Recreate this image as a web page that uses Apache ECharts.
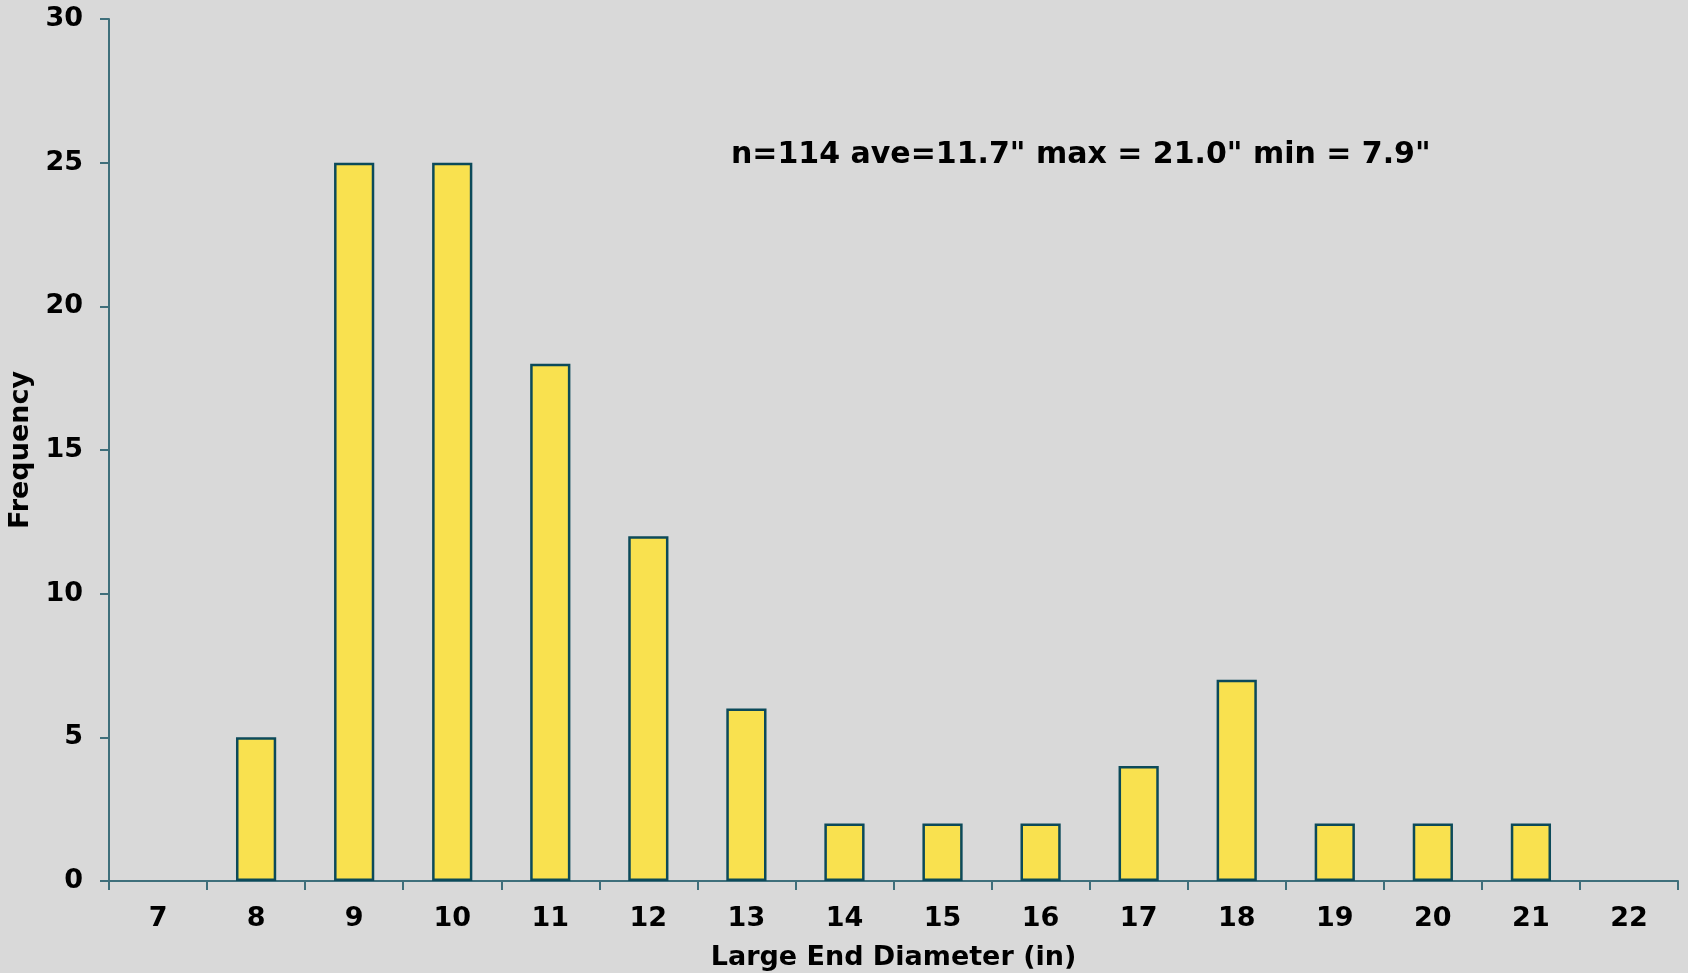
<!DOCTYPE html>
<html><head><meta charset="utf-8">
<script src="https://cdn.jsdelivr.net/npm/echarts@6/dist/echarts.min.js"></script>
<style>html,body{margin:0;padding:0;background:#d9d9d9;}#c{width:1688px;height:973px;}</style>
</head><body><div id="c"></div>
<script>
const categories = ['7','8','9','10','11','12','13','14','15','16','17','18','19','20','21','22'];
const frequency = [0,5,25,25,18,12,6,2,2,2,4,7,2,2,2,0];
const yTicks = {min:0, max:30, interval:5};
const annotation = 'n=114 ave=11.7" max = 21.0" min = 7.9"';
const xTitle = 'Large End Diameter (in)';
const yTitle = 'Frequency';

const FONT = '"DejaVu Sans", Verdana, sans-serif';
const axisColor = '#3f6f7b';
const chart = echarts.init(document.getElementById('c'));
chart.setOption({
  backgroundColor: '#d9d9d9',
  animation: false,
  grid: {left: 109, top: 19, right: 10, bottom: 92, containLabel: false, outerBoundsMode: 'none'},
  xAxis: {
    type: 'category', data: categories,
    name: xTitle, nameLocation: 'middle', nameGap: 63,
    nameTextStyle: {fontFamily: FONT, fontWeight: 'bold', fontSize: 27, color: '#000'},
    axisLine: {lineStyle: {color: axisColor, width: 2}},
    axisTick: {show: true, length: 9, lineStyle: {color: axisColor, width: 2}},
    axisLabel: {margin: 24, fontFamily: FONT, fontWeight: 'bold', fontSize: 27, color: '#000'},
    splitLine: {show: false}
  },
  yAxis: {
    type: 'value', min: yTicks.min, max: yTicks.max, interval: yTicks.interval,
    name: yTitle, nameLocation: 'middle', nameGap: 73, nameRotate: 90,
    nameTextStyle: {fontFamily: FONT, fontWeight: 'bold', fontSize: 27, color: '#000'},
    axisLine: {show: true, lineStyle: {color: axisColor, width: 2}},
    axisTick: {show: true, length: 9, lineStyle: {color: axisColor, width: 2}},
    axisLabel: {margin: 26, fontFamily: FONT, fontWeight: 'bold', fontSize: 27, color: '#000'},
    splitLine: {show: false}
  },
  graphic: [{
    type: 'text', left: 731, top: 140,
    style: {text: annotation, fontFamily: FONT, fontWeight: 'bold', fontSize: 30, fill: '#000'}
  }],
  series: [{
    type: 'bar',
    data: frequency.map(v => v === 0 ? {value: v, itemStyle: {opacity: 0}} : v),
    barWidth: '41%',
    itemStyle: {color: '#f9e14f', borderColor: '#0c4a5a', borderWidth: 2.5}
  }]
});
</script></body></html>
